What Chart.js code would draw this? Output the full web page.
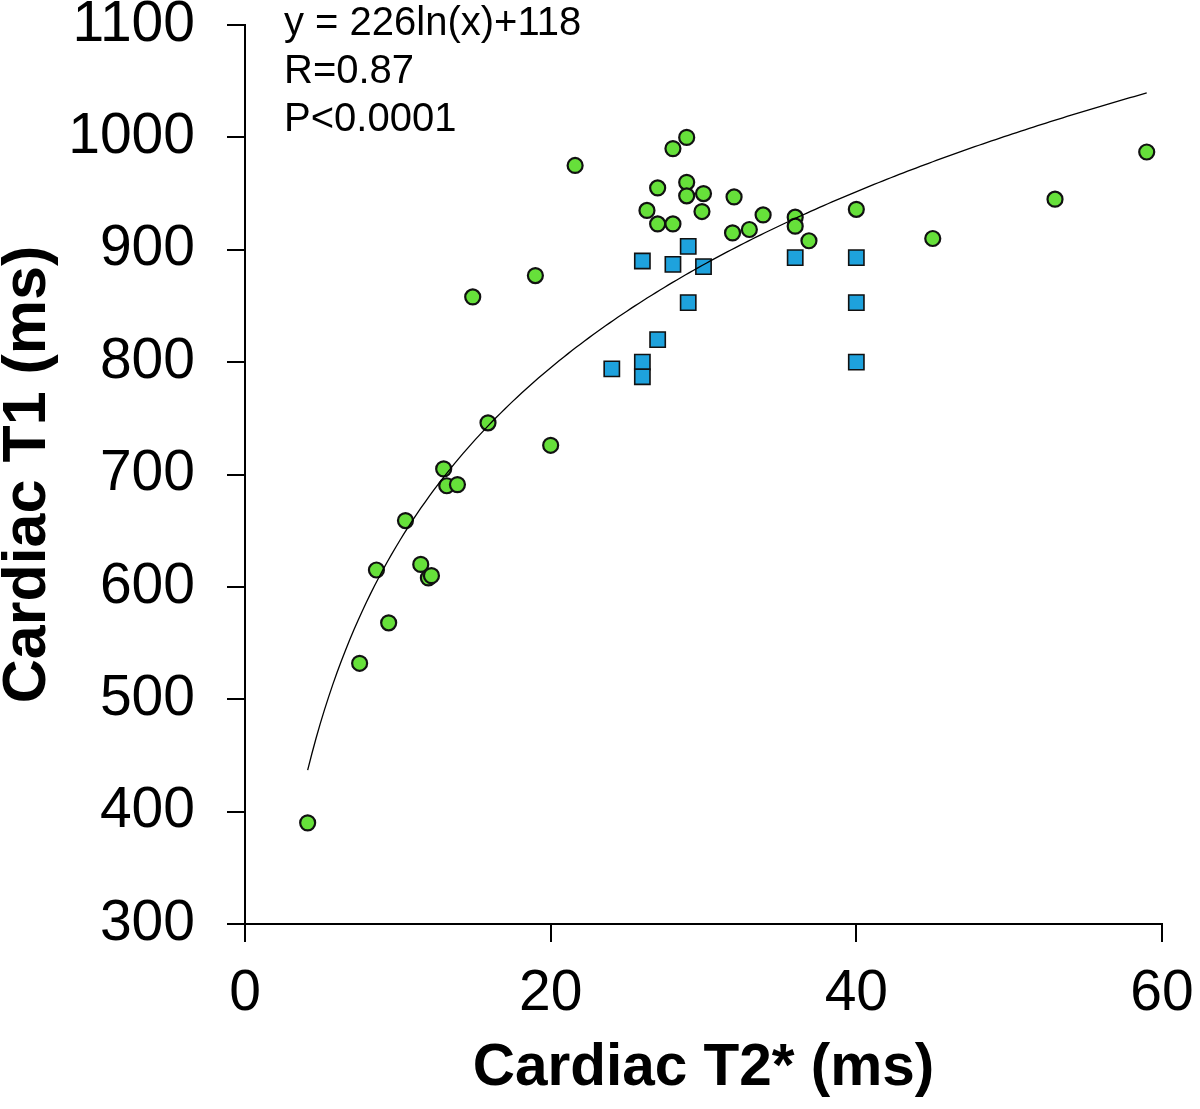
<!DOCTYPE html>
<html>
<head>
<meta charset="utf-8">
<script src="https://cdn.jsdelivr.net/npm/chart.js@4.4.1/dist/chart.umd.min.js"></script>
<style>
  html, body { margin: 0; padding: 0; background: #ffffff; }
  #wrap { width: 1200px; height: 1109px; position: relative; }
</style>
</head>
<body>
<div id="wrap"><canvas id="c" width="1200" height="1109"></canvas></div>
<script>
// Green circles (Cardiac T2* ms, Cardiac T1 ms)
const greenX = [4.1, 7.5, 8.6, 9.4, 10.5, 11.5, 12.0, 12.2, 13.0, 13.2, 13.9, 14.9, 15.9, 19.0, 20.0, 21.6,
                28.9, 28.0, 27.0, 28.9, 28.9, 30.0, 32.0, 26.3, 29.9, 27.0, 28.0, 33.9, 33.0, 31.9, 36.0, 36.0, 36.9, 40.0,
                45.0, 53.0, 59.0];
const greenY = [390, 532, 615, 568, 659, 620, 608, 610, 705, 690, 691, 858, 746, 877, 726, 975,
                1000, 990, 955, 960, 948, 950, 947, 935, 934, 923, 923, 931, 918, 915, 929, 921, 908, 936,
                910, 945, 987];
// Blue squares
const blueX = [29, 26, 28, 30, 36, 40, 29, 40, 27, 24, 26, 26, 40];
const blueY = [903, 890, 887, 885, 893, 893, 853, 853, 820, 794, 800, 787, 800];
// Fitted curve y = 226 ln(x) + 118
const fitA = 226, fitB = 118;
const fitXStart = 4.1, fitXEnd = 59;
const xTicks = [0, 20, 40, 60];
const yTicks = [300, 400, 500, 600, 700, 800, 900, 1000, 1100];
const annotationLines = ['y = 226ln(x)+118', 'R=0.87', 'P<0.0001'];

const greenPts = greenX.map((x, i) => ({x: x, y: greenY[i]}));
const bluePts = blueX.map((x, i) => ({x: x, y: blueY[i]}));
const fitPts = [];
for (let k = 0; k <= 200; k++) {
  const x = fitXStart + (fitXEnd - fitXStart) * k / 200;
  fitPts.push({x: x, y: fitA * Math.log(x) + fitB});
}

const FONT = "'Liberation Sans', Arial, sans-serif";

const annotationPlugin = {
  id: 'annot',
  afterDraw(chart) {
    const ctx = chart.ctx;
    ctx.save();
    ctx.fillStyle = '#000';
    ctx.font = "40px " + FONT;
    ctx.textBaseline = 'alphabetic';
    ctx.textAlign = 'left';
    annotationLines.forEach((t, i) => ctx.fillText(t, 284, 35 + i * 48));
    ctx.restore();
  }
};

new Chart(document.getElementById('c'), {
  type: 'scatter',
  data: {
    datasets: [
      { label: 'fit', data: fitPts, showLine: true, pointRadius: 0, borderColor: '#000', borderWidth: 1.3, fill: false, tension: 0, order: 0 },
      { label: 'green', data: greenPts, pointStyle: 'circle', pointRadius: 7.5, backgroundColor: '#66e03a', borderColor: '#111', borderWidth: 2.2, order: 2 },
      { label: 'blue', data: bluePts, pointStyle: 'rect', pointRadius: 10.8, backgroundColor: '#1ea2dd', borderColor: '#111', borderWidth: 1.6, order: 1 }
    ]
  },
  options: {
    responsive: false,
    animation: false,
    devicePixelRatio: 1,
    layout: { padding: { top: 25, right: 38, left: 0, bottom: 0 } },
    plugins: { legend: { display: false }, tooltip: { enabled: false } },
    scales: {
      x: {
        type: 'linear', min: 0, max: 60,
        afterBuildTicks: (s) => { s.ticks = xTicks.map(v => ({value: v})); },
        afterFit: (s) => { s.height = 185; s.paddingLeft = 0; s.paddingRight = 0; },
        grid: { display: true, drawOnChartArea: false, drawTicks: true, tickLength: 18, color: '#000', lineWidth: 2 },
        border: { display: true, color: '#000', width: 2 },
        ticks: { color: '#000', font: { family: FONT, size: 57 }, padding: 18, maxRotation: 0, callback: (v) => String(v) },
        title: { display: true, text: 'Cardiac T2* (ms)', color: '#000', font: { family: FONT, size: 58.5, weight: 'bold' }, padding: { top: 5, bottom: 5 } }
      },
      y: {
        type: 'linear', min: 300, max: 1100,
        afterBuildTicks: (s) => { s.ticks = yTicks.map(v => ({value: v})); },
        afterFit: (s) => { s.width = 245; s.paddingTop = 0; s.paddingBottom = 0; },
        grid: { display: true, drawOnChartArea: false, drawTicks: true, tickLength: 18, color: '#000', lineWidth: 2 },
        border: { display: true, color: '#000', width: 2 },
        ticks: { color: '#000', font: { family: FONT, size: 57 }, padding: 32, callback: (v) => String(v) },
        title: { display: true, text: 'Cardiac T1 (ms)', color: '#000', font: { family: FONT, size: 61, weight: 'bold', lineHeight: 0.92 }, padding: { top: 0, bottom: 0 } }
      }
    }
  },
  plugins: [annotationPlugin]
});
</script>
</body>
</html>
